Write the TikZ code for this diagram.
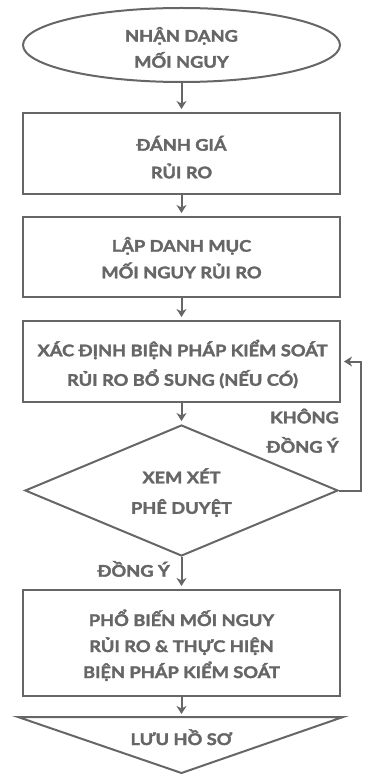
\documentclass[tikz,border=0pt]{standalone}
\usepackage{fontspec}
\setmainfont{Lato}[FakeStretch=1.14, BoldFeatures={FakeStretch=1.14, FakeBold=2.2}]
\usetikzlibrary{shapes.geometric,arrows.meta}
\definecolor{ink}{HTML}{666666}
\newcommand{\rl}[1]{\smash{#1}}
\begin{document}
\begin{tikzpicture}[x=1pt,y=-1pt,
  every node/.style={text=ink, inner sep=0pt},
  txt/.style={font=\fontsize{16}{#1}\selectfont\bfseries, align=center},
  line/.style={draw=ink, line width=2pt},
  arr/.style={line, shorten >=3pt, -{Stealth[length=8pt,width=10pt,inset=2.5pt]}},
  boxnode/.style={line, rectangle, minimum width=317pt},
]
\useasboundingbox (0,0) rectangle (373,775);
% shapes
\node[line, ellipse, minimum width=317pt, minimum height=74pt] (start) at (181.5,45) {};
\node[boxnode, minimum height=81pt] (b1) at (181.5,153.5) {};
\node[boxnode, minimum height=80pt] (b2) at (181.5,257) {};
\node[boxnode, minimum height=81pt] (b3) at (181.5,361.5) {};
\node[line, diamond, minimum width=313pt, minimum height=131pt] (dec) at (181.5,490.5) {};
\node[boxnode, minimum height=106pt] (b4) at (181.5,643) {};
\coordinate (tri) at (181.5,717);
\draw[line] (18,717) -- (343,717) -- (181.5,773) -- cycle;
% texts
\node[txt=26] (tstart) at (181.5,54.7) {\rl{NHẬN DẠNG}\\\rl{MỐI NGUY}};
\node[txt=27.6] (tb1) at (181.5,164.5) {\rl{ĐÁNH GIÁ}\\\rl{RỦI RO}};
\node[txt=26.6] (tb2) at (181.5,265) {\rl{LẬP DANH MỤC}\\\rl{MỐI NGUY RỦI RO}};
\node[txt=29.5] (tb3) at (182.5,371) {\rl{XÁC ĐỊNH BIỆN PHÁP KIỂM SOÁT}\\\rl{RỦI RO BỔ SUNG (NẾU CÓ)}};
\node[txt=30.5] (tdec) at (181.5,498.5) {\rl{XEM XÉT}\\\rl{PHÊ DUYỆT}};
\node[txt=26] (tb4) at (181.5,652) {\rl{PHỔ BIẾN MỐI NGUY}\\\rl{RỦI RO \& THỰC HIỆN}\\\rl{BIỆN PHÁP KIỂM SOÁT}};
\node[txt=20] (save) at (181.5,745) {\rl{LƯU HỒ SƠ}};
% connectors
\draw[arr] (start) -- (b1);
\draw[arr] (b1) -- (b2);
\draw[arr] (b2) -- (b3);
\draw[arr] (b3) -- (dec);
\draw[arr] (dec) -- (b4);
\draw[arr] (b4) -- (tri);
\draw[arr] (dec.east) -- ++(22,0) |- (b3.east);
\node[txt=29.4, align=right, anchor=east] (no) at (339,438) {\rl{KHÔNG}\\\rl{ĐỒNG Ý}};
\node[txt=20, anchor=east] (yes) at (170,576.7) {\rl{ĐỒNG Ý}};
\end{tikzpicture}
\end{document}
